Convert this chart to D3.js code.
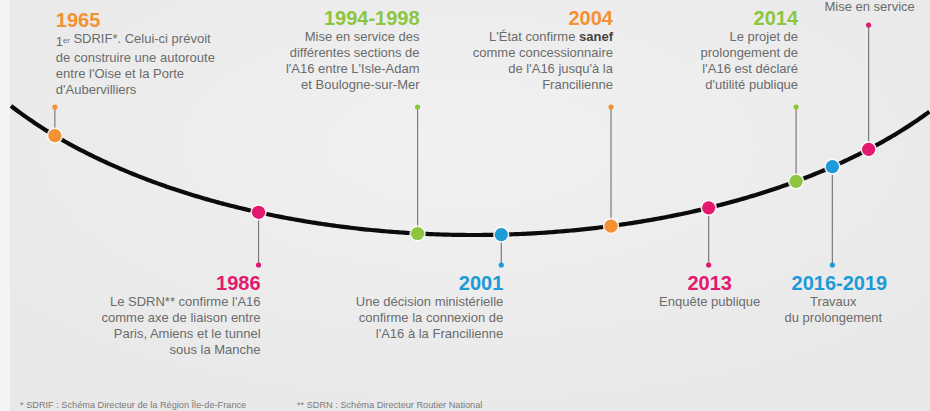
<!DOCTYPE html>
<html><head><meta charset="utf-8">
<script src="https://cdn.jsdelivr.net/npm/d3@7"></script>
<style>
html,body{margin:0;padding:0;background:#fff;}
svg{display:block;font-family:"Liberation Sans",Arial,Helvetica,sans-serif;}
</style>
</head><body>
<script>
// ---- data ----
const years = ["1965", "1986", "1994-1998", "2001", "2004", "2013", "2014", "2016-2019", ""];
// position of each milestone along the timeline (% of the chart width)
const arcPosition = [5.9, 27.8, 44.9, 53.9, 65.7, 76.2, 85.6, 89.5, 93.4];
const labelSide = ["up", "down", "up", "down", "up", "down", "up", "down", "up"];
const hueKey = ["orange", "pink", "green", "blue", "orange", "pink", "green", "blue", "pink"];
const descriptions = [
  ["1^er^ SDRIF*. Celui-ci prévoit", "de construire une autoroute", "entre l'Oise et la Porte", "d'Aubervilliers"],
  ["Le SDRN** confirme l'A16", "comme axe de liaison entre", "Paris, Amiens et le tunnel", "sous la Manche"],
  ["Mise en service des", "différentes sections de", "l'A16 entre L'Isle-Adam", "et Boulogne-sur-Mer"],
  ["Une décision ministérielle", "confirme la connexion de", "l'A16 à la Francilienne"],
  ["L'État confirme {sanef}", "comme concessionnaire", "de l'A16 jusqu'à la", "Francilienne"],
  ["Enquête publique"],
  ["Le projet de", "prolongement de", "l'A16 est déclaré", "d'utilité publique"],
  ["Travaux", "du prolongement"],
  ["Mise en service"]
];
const footnotes = [
  "* SDRIF : Schéma Directeur de la Région Île-de-France",
  "** SDRN : Schéma Directeur Routier National"
];

// ---- rendering ----
const W = 930, H = 411;
const palette = d3.scaleOrdinal()
  .domain(["orange", "pink", "green", "blue"])
  .range(["#f39133", "#e2196f", "#8cc63e", "#1d9ad8"]);
const textGrey = "#6b6b6b";

const svg = d3.select("body").append("svg").attr("width", W).attr("height", H);

// background
const defs = svg.append("defs");
const rg = defs.append("radialGradient").attr("id", "bg").attr("cx", "50%").attr("cy", "35%").attr("r", "70%");
rg.append("stop").attr("offset", "0%").attr("stop-color", "#f1f1f1");
rg.append("stop").attr("offset", "100%").attr("stop-color", "#e8e8e8");
svg.append("rect").attr("width", W).attr("height", H).attr("fill", "#f4f4f4");
svg.append("rect").attr("x", 10).attr("width", W - 10).attr("height", H).attr("fill", "url(#bg)");

// scales: horizontal position, and an elliptical arc for vertical position
const x = d3.scaleLinear().domain([0, 100]).range([0, W]);
const ell = {cx: 474, cy: -60, rx: 560, ry: 295};
const arcY = px => {
  const t = (px - ell.cx) / ell.rx;
  return ell.cy + ell.ry * Math.sqrt(Math.max(0, 1 - t * t));
};

// arc line
const arcXs = d3.range(x.invert(11), 100.01, 0.25);
svg.append("path")
  .datum(arcXs)
  .attr("d", d3.line().x(d => x(d)).y(d => arcY(x(d))))
  .attr("fill", "none").attr("stroke", "#0b0b0b").attr("stroke-width", 4.2);

const items = years.map((y, i) => ({
  year: y, pos: arcPosition[i], side: labelSide[i], hue: hueKey[i], lines: descriptions[i], i
}));
const anchorOf = ["start", "end", "end", "end", "end", "middle", "end", "middle", "middle"];
const yearShift = {7: 6};
const isFinal = d => d.i === items.length - 1;

items.forEach(d => {
  const px = x(d.pos), py = arcY(px);
  const stemEnd = d.side === "down" ? 265 : (isFinal(d) ? 25 : 107);
  const g = svg.append("g");
  g.append("line").attr("x1", px).attr("x2", px).attr("y1", py).attr("y2", stemEnd)
    .attr("stroke", "#7b7b7b").attr("stroke-width", 1.2);
  g.append("circle").attr("cx", px).attr("cy", stemEnd).attr("r", 2.6).attr("fill", palette(d.hue));
  g.append("circle").attr("cx", px).attr("cy", py).attr("r", 8.2).attr("fill", "#fbfbfb").attr("opacity", 0.9);
  g.append("circle").attr("cx", px).attr("cy", py).attr("r", 6.6).attr("fill", palette(d.hue));

  // labels
  const anchor = anchorOf[d.i];
  const tx = anchor === "start" ? px + 1 : anchor === "end" ? px + 2 : px + 1;
  let yearBase, lineBase;
  if (d.side === "down") { yearBase = 290; lineBase = 306; }
  else if (isFinal(d)) { yearBase = -6; lineBase = 11; }
  else if (d.i === 0) { yearBase = 27; lineBase = 46; }
  else { yearBase = 25; lineBase = 41; }

  if (d.year) {
    g.append("text").attr("x", tx + (yearShift[d.i] || 0)).attr("y", yearBase).attr("text-anchor", anchor)
      .attr("font-size", 20).attr("font-weight", "bold").attr("fill", palette(d.hue))
      .text(d.year);
  }
  d.lines.forEach((ln, k) => {
    const t = g.append("text").attr("x", tx).attr("y", lineBase + k * 16)
      .attr("text-anchor", anchor).attr("font-size", 13).attr("fill", textGrey);
    ln.split(/(\{[^}]*\}|\^[^^]*\^)/).filter(s => s.length).forEach(seg => {
      if (seg[0] === "{") {
        t.append("tspan").attr("font-weight", "bold").attr("fill", "#444").text(seg.slice(1, -1));
      } else if (seg[0] === "^") {
        t.append("tspan").attr("font-size", 7.5).attr("dy", -3.5).text(seg.slice(1, -1));
        t.append("tspan").attr("dy", 3.5).text("");
      } else {
        t.append("tspan").text(seg);
      }
    });
  });
});

// footnotes
svg.selectAll("text.foot").data(footnotes).enter().append("text")
  .attr("class", "foot")
  .attr("x", (d, i) => i === 0 ? 20 : 297)
  .attr("y", 408)
  .attr("font-size", 9.2).attr("fill", "#7a7a7a")
  .text(d => d);
</script>
</body></html>
